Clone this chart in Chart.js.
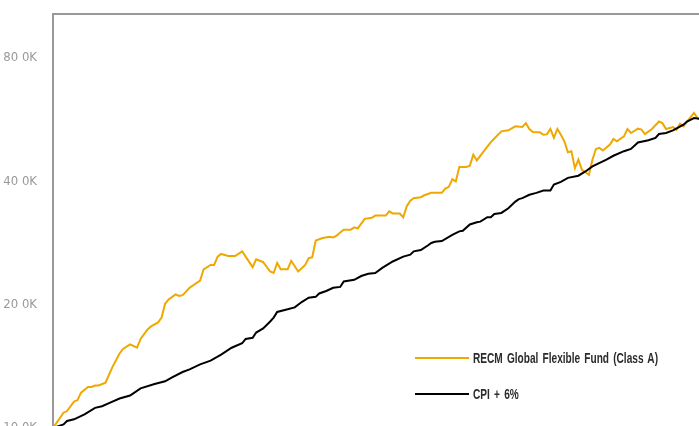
<!DOCTYPE html>
<html>
<head>
<meta charset="utf-8">
<script src="https://cdn.jsdelivr.net/npm/chart.js@4/dist/chart.umd.min.js"></script>
<style>
    html, body { margin: 0; padding: 0; background: #fff; overflow: hidden; }
    #wrap { position: absolute; left: 0; top: 0; width: 720px; height: 440px; }
    .legend-item { position: absolute; left: 415px; height: 16px; font-family: 'Liberation Sans', Arial, sans-serif; font-size: 14.5px; font-weight: bold; color: #2b2b2b; white-space: nowrap; }
    .legend-item span.swatch { position: absolute; left: 0; top: 7px; width: 54px; height: 2px; }
    .legend-item span.text { position: absolute; left: 58px; top: 0; line-height: 16px; transform-origin: 0 50%; word-spacing: 2px; }
</style>
</head>
<body>
<div id="wrap"><canvas id="growthChart" width="720" height="440"></canvas></div>
<div class="legend-item" id="legendFund" style="top: 350px;"><span class="swatch"></span><span class="text"></span></div>
<div class="legend-item" id="legendCpi" style="top: 386px;"><span class="swatch"></span><span class="text"></span></div>
<script>
// growth of 10K, values in thousands, x = months since start
const seriesNames = ['RECM Global Flexible Fund (Class A)', 'CPI + 6%'];

const fundMonths = [
    0, 3, 4, 6, 7, 8, 10, 11, 12, 13,
    15, 16, 17, 19, 20, 22, 24, 25, 27, 28,
    30, 31, 32, 33, 35, 36, 37, 39, 42, 43,
    45, 46, 47, 48, 50, 52, 54, 55, 57, 58,
    59, 60, 62, 63, 64, 65, 67, 68, 70, 72,
    73, 74, 75, 77, 79, 80, 81, 82, 83, 85,
    86, 87, 89, 91, 92, 95, 96, 97, 99, 100,
    101, 102, 103, 105, 106, 108, 111, 112, 113, 114,
    115, 116, 118, 119, 120, 121, 123, 125, 126, 128,
    130, 132, 134, 135, 136, 137, 139, 140, 141, 142,
    143, 144, 145, 146, 147, 148, 149, 150, 151, 152,
    153, 154, 155, 156, 157, 159, 160, 161, 163, 164,
    165, 167, 168, 169, 171, 173, 174, 175, 177, 178,
    179, 180, 181, 183, 184, 185
];
const fundValues = [
    10.0, 10.9, 11.0, 11.6, 11.7, 12.2, 12.6, 12.6, 12.7, 12.7,
    12.9, 13.5, 14.1, 15.2, 15.6, 16.0, 15.7, 16.5, 17.4, 17.7,
    18.1, 18.6, 20.1, 20.6, 21.2, 21.0, 21.1, 22.0, 22.9, 24.4,
    25.0, 25.0, 26.2, 26.6, 26.3, 26.3, 27.0, 26.2, 24.7, 25.8,
    25.6, 25.4, 24.1, 23.9, 25.3, 24.4, 24.4, 25.6, 24.1, 25.0,
    26.0, 26.1, 28.7, 29.1, 29.3, 29.2, 29.5, 30.0, 30.5, 30.5,
    30.9, 30.7, 32.4, 32.6, 33.0, 33.0, 33.8, 33.4, 33.4, 32.7,
    34.8, 35.9, 36.4, 36.6, 37.0, 37.5, 37.5, 38.4, 38.8, 40.5,
    40.0, 43.4, 43.4, 43.7, 46.5, 45.0, 47.4, 49.9, 50.9, 53.0,
    53.3, 54.5, 54.3, 55.5, 53.7, 52.8, 52.7, 52.0, 52.1, 53.7,
    51.1, 53.7, 52.0, 50.1, 47.1, 47.4, 43.1, 45.2, 42.7, 42.1,
    41.5, 45.2, 48.0, 48.3, 47.6, 49.2, 50.8, 50.1, 51.5, 53.7,
    52.5, 53.8, 53.5, 52.2, 53.7, 56.0, 55.5, 53.7, 54.3, 53.5,
    55.3, 54.5, 56.0, 58.8, 57.1, 56.4
];

const cpiMonths = [
    0, 3, 4, 6, 9, 12, 14, 16, 19, 22,
    25, 29, 32, 34, 37, 39, 42, 44, 45, 48,
    51, 54, 55, 57, 58, 60, 62, 63, 64, 67,
    69, 71, 73, 75, 76, 78, 80, 82, 83, 86,
    88, 90, 92, 94, 97, 100, 102, 103, 105, 107,
    108, 109, 111, 114, 116, 117, 119, 121, 122, 124,
    125, 126, 128, 130, 132, 133, 134, 136, 138, 140,
    142, 143, 145, 147, 150, 152, 154, 158, 160, 163,
    165, 167, 170, 172, 173, 175, 177, 180, 181, 183,
    185
];
const cpiValues = [
    10.0, 10.2, 10.4, 10.5, 10.8, 11.2, 11.3, 11.5, 11.8, 12.0,
    12.5, 12.8, 13.0, 13.3, 13.7, 13.9, 14.3, 14.5, 14.6, 15.1,
    15.7, 16.1, 16.5, 16.6, 17.1, 17.5, 18.2, 18.6, 19.2, 19.5,
    19.7, 20.3, 20.8, 20.9, 21.3, 21.6, 22.0, 22.1, 22.8, 23.0,
    23.5, 23.8, 23.9, 24.6, 25.5, 26.2, 26.5, 27.0, 27.2, 27.9,
    28.3, 28.5, 28.6, 29.6, 30.2, 30.3, 31.4, 31.8, 31.9, 32.7,
    32.7, 33.3, 33.5, 34.4, 35.7, 36.2, 36.4, 37.1, 37.5, 38.0,
    38.0, 39.3, 39.9, 40.8, 41.3, 42.3, 43.5, 45.2, 46.2, 47.4,
    48.0, 49.8, 50.4, 51.1, 52.2, 52.5, 53.3, 55.0, 56.0, 57.1,
    56.8
];

const yTickValues = [10, 20, 40, 80];

const fundColor = '#EFA800';
const cpiColor = '#000000';
const frameColor = '#999999';

function toPoints(xs, ys) {
    return xs.map((x, i) => ({ x: x, y: ys[i] }));
}

// top and left border of the plot
const framePlugin = {
    id: 'frame',
    beforeDatasetsDraw(chart) {
        const { ctx, chartArea } = chart;
        ctx.save();
        ctx.strokeStyle = frameColor;
        ctx.lineWidth = 2;
        ctx.beginPath();
        ctx.moveTo(chartArea.left, chartArea.bottom + 20);
        ctx.lineTo(chartArea.left, chartArea.top);
        ctx.lineTo(chartArea.right + 20, chartArea.top);
        ctx.stroke();
        ctx.restore();
    }
};

function initGrowthChart() {
    const ctx = document.getElementById('growthChart').getContext('2d');
    const fontFamily = "'DejaVu Sans Condensed', 'Liberation Sans', sans-serif";

    new Chart(ctx, {
        type: 'line',
        data: {
            datasets: [
                {
                    label: seriesNames[1],
                    data: toPoints(cpiMonths, cpiValues),
                    borderColor: cpiColor,
                    borderWidth: 2,
                    pointRadius: 0,
                    tension: 0,
                    order: 0
                },
                {
                    label: seriesNames[0],
                    data: toPoints(fundMonths, fundValues),
                    borderColor: fundColor,
                    borderWidth: 2,
                    pointRadius: 0,
                    tension: 0,
                    order: 1
                }
            ]
        },
        options: {
            responsive: false,
            animation: false,
            layout: { padding: { top: 14, bottom: 12, right: 19, left: 0 } },
            plugins: {
                legend: { display: false },
                tooltip: { enabled: false }
            },
            scales: {
                x: {
                    type: 'linear',
                    min: 0,
                    max: 185,
                    display: false
                },
                y: {
                    type: 'logarithmic',
                    min: 10,
                    max: 102.5,
                    afterFit: function(scale) {
                        scale.width = 53;
                        scale.paddingTop = 0;
                        scale.paddingBottom = 0;
                    },
                    afterBuildTicks: function(scale) {
                        scale.ticks = yTickValues.map(v => ({ value: v }));
                    },
                    grid: { display: false, drawTicks: false },
                    border: { display: false },
                    ticks: {
                        color: '#999999',
                        padding: 16,
                        font: { family: fontFamily, size: 13 },
                        callback: function(value) { return value + ' 0K'; }
                    }
                }
            }
        },
        plugins: [framePlugin]
    });

    const legendDefs = [
        { id: 'legendFund', name: seriesNames[0], color: fundColor },
        { id: 'legendCpi', name: seriesNames[1], color: cpiColor }
    ];
    // squeeze the legend text to the narrow look of the original
    let squeeze = 1;
    legendDefs.forEach(item => {
        const el = document.getElementById(item.id);
        el.querySelector('.swatch').style.background = item.color;
        const txt = el.querySelector('.text');
        txt.textContent = item.name;
        if (item.id === 'legendFund') squeeze = 185 / txt.getBoundingClientRect().width;
    });
    legendDefs.forEach(item => {
        document.getElementById(item.id).querySelector('.text').style.transform = 'scaleX(' + squeeze + ')';
    });
}

document.addEventListener('DOMContentLoaded', initGrowthChart);
</script>
</body>
</html>
